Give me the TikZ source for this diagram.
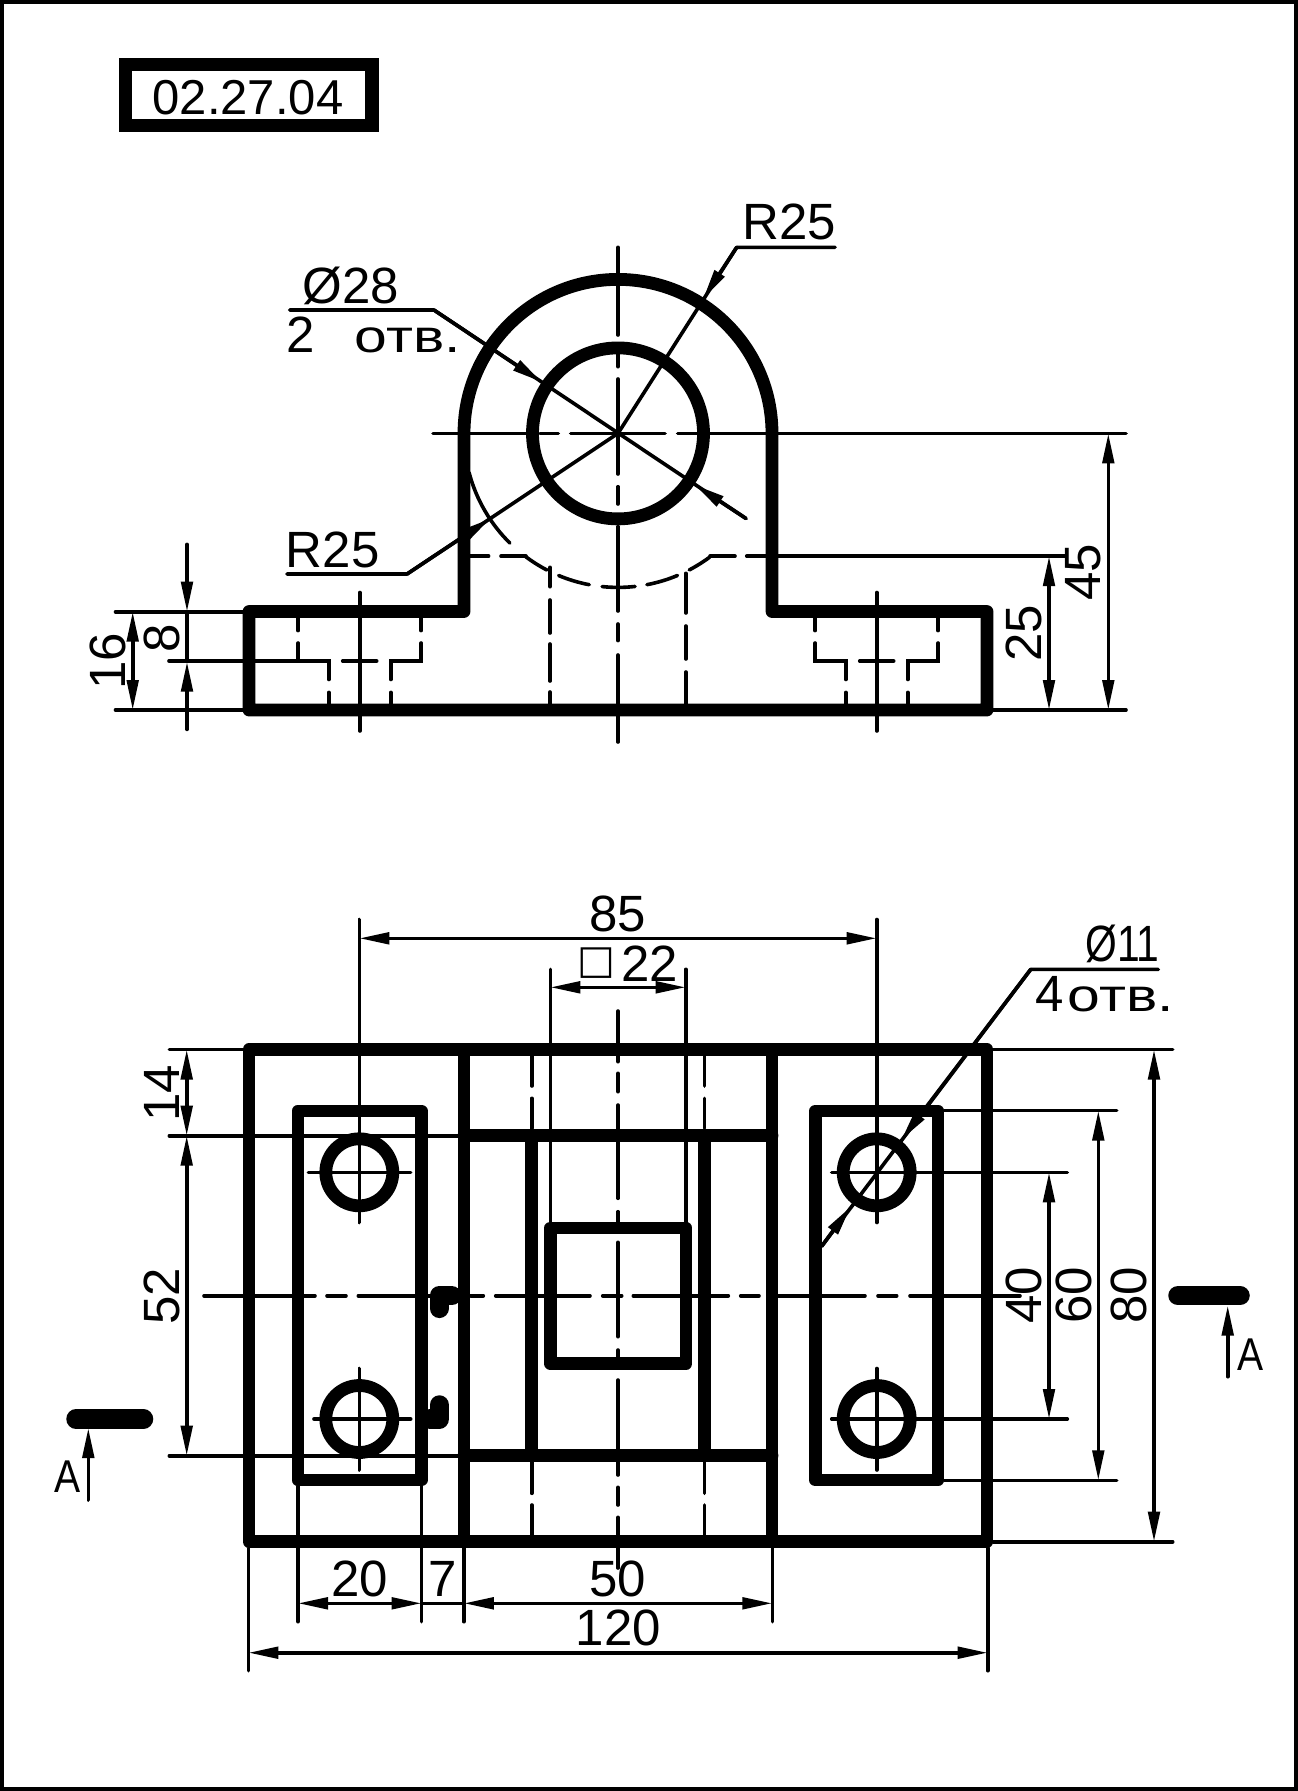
\documentclass[tikz,border=0pt]{standalone}
\usepackage{fontspec}
\setmainfont{Liberation Sans}
\newfontfamily\symfont{DejaVu Sans}
\usetikzlibrary{arrows.meta}

\newcommand{\otv}{{\fontsize{46}{46}\selectfont\scalebox{1.28}[1]{отв.}}}

\begin{document}
\begin{tikzpicture}
            [x=1pt, y=-1pt,
             outline/.style={line width=12.8pt, line join=round, line cap=round},
             thinline/.style={line width=3.6pt, line cap=round},
             bar/.style={line width=19.5pt, line cap=round, line join=round},
             lbl/.style={inner sep=0pt, font=\fontsize{51}{51}\selectfont},
             >={Stealth[length=30pt, width=11.5pt, inset=0pt]}]

            \useasboundingbox (0,0) rectangle (1298,1791);
            \draw[line width=4.5pt] (1.8,1.8) rectangle (1295.8,1788.8);

            % title
            \draw[line width=13.4pt] (125.7,64.2) rectangle (372,125.5);
            \node[lbl] (title) at (248,98) {\fontsize{49}{49}\selectfont 02.27.04};

            % front view
            \coordinate (C) at (618,433.4);

            \draw[thinline] (618,247.3) -- (618,335) (618,354) -- (618,366.7) (618,379) -- (618,474)
                (618,486.7) -- (618,504) (618,526.7) -- (618,611) (618,624) -- (618,640.6) (618,655) -- (618,742);
            \draw[thinline] (433,433.4) -- (527,433.4) (540,433.4) -- (558.3,433.4) (570.7,433.4) -- (665,433.4)
                (677.7,433.4) -- (696.7,433.4) (710,433.4) -- (1126,433.4);

            \draw[thinline] (C) ++(165.3:154) arc[start angle=165.3, end angle=134.6, radius=154];
            \draw[thinline, dash pattern=on 25pt off 13pt on 32pt off 13pt on 33pt off 12pt on 32pt off 13pt on 24pt off 60pt]
                (C) ++(126.8:154) arc[start angle=126.8, end angle=53.2, radius=154];
            \draw[thinline] (470.6,556.2) -- (488.6,556.2) (501,556.2) -- (526,556.2)
                (710,556.2) -- (735,556.2) (746.7,556.2) -- (1065,556.2);

            \draw[thinline] (550,567.3) -- (550,586.7) (550,600) -- (550,633) (550,644) -- (550,681) (550,692) -- (550,704);
            \draw[thinline] (685.7,573.3) -- (685.7,613) (685.7,626) -- (685.7,659) (685.7,672) -- (685.7,704);

            \draw[thinline] (169,661) -- (298,661);
            \foreach \x in {359.7,876.7} {
                \draw[thinline] (\x,592.5) -- (\x,731);
                \draw[thinline] ({\x-61.5},618) -- ({\x-61.5},630.6);
                \draw[thinline, line join=miter] ({\x-61.5},643) -- ({\x-61.5},661) -- ({\x-31},661) -- ({\x-31},679.5);
                \draw[thinline] ({\x-31},692.4) -- ({\x-31},704);
                \draw[thinline] ({\x-17},661) -- ({\x+17},661);
                \draw[thinline] ({\x+31},692.4) -- ({\x+31},704);
                \draw[thinline, line join=miter] ({\x+31},679.5) -- ({\x+31},661) -- ({\x+61.5},661) -- ({\x+61.5},643);
                \draw[thinline] ({\x+61.5},630.6) -- ({\x+61.5},618);
            }

            % front view leaders
            \draw[thinline, line join=round] (835,247.3) -- (736.7,247.3) -- (C);
            \draw[thinline, line join=round] (287,574) -- (407,574) -- (C);
            \draw[thinline, line join=round] (289.6,310) -- (434,310) -- (746,518.5);
            \draw[thinline, ->] (736.7,247.3) -- (703.3,298.4);
            \draw[thinline, ->] (407,574) -- (490.4,518.6);
            \draw[thinline, ->] (434,310) -- (541.6,382);
            \draw[thinline, ->] (746,518.5) -- (695,485);

            % front view dimensions
            \draw[thinline] (115.5,611.7) -- (243,611.7) (115.5,710) -- (243,710) (987,710) -- (1126,710);
            \draw[thinline, <->] (132.7,611.7) -- (132.7,710);
            \draw[thinline, ->] (187,544.4) -- (187,611.7);
            \draw[thinline] (187,611.7) -- (187,661);
            \draw[thinline, ->] (187,729.4) -- (187,661.7);
            \draw[thinline, <->] (1049,556.2) -- (1049,710);
            \draw[thinline, <->] (1108.3,433.4) -- (1108.3,710);

            \draw[outline] (249,710) -- (249,611.5) -- (464,611.5) -- (464,433.4)
                arc[start angle=180, end angle=360, radius=154]
                -- (772,611.5) -- (987,611.5) -- (987,710) -- cycle;
            \draw[outline] (C) circle[radius=85.5];

            \node[lbl] (r25top) at (789,222) {R25};
            \node[lbl] (dia28) at (351,285.5) {Ø28};
            \node[lbl, anchor=base west] (two) at (286,352) {2\hspace{40pt}\otv};
            \node[lbl] (r25low) at (332.7,549.5) {R25};
            \node[lbl, rotate=90] (d8) at (162.3,638) {8};
            \node[lbl, rotate=90] (d16) at (108,661) {16};
            \node[lbl, rotate=90] (d25) at (1024,633) {25};
            \node[lbl, rotate=90] (d45) at (1083,572) {45};

            % plan view
            \draw[thinline] (359.3,919.5) -- (359.3,1222.5) (359.3,1368.5) -- (359.3,1470);
            \draw[thinline] (876.7,919.5) -- (876.7,1222.5) (876.7,1368.5) -- (876.7,1470);
            \draw[thinline] (308.3,1172.3) -- (410.7,1172.3) (314,1419) -- (410.7,1419);
            \draw[thinline] (831.7,1172.3) -- (1067.3,1172.3) (831.7,1419) -- (1067.3,1419);

            \draw[thinline] (204,1295.7) -- (315,1295.7) (327,1295.7) -- (346,1295.7) (358.3,1295.7) -- (430,1295.7)
                (470.7,1295.7) -- (483.3,1295.7) (495.7,1295.7) -- (590,1295.7) (602.7,1295.7) -- (621.7,1295.7)
                (633.3,1295.7) -- (728.3,1295.7) (740.7,1295.7) -- (759,1295.7) (778,1295.7) -- (865,1295.7)
                (878,1295.7) -- (896.7,1295.7) (910,1295.7) -- (1020,1295.7);
            \draw[thinline] (618,1011) -- (618,1061.7) (618,1073.3) -- (618,1091.7) (618,1105) -- (618,1198.3)
                (618,1211.7) -- (618,1225) (618,1242.3) -- (618,1336.7) (618,1350) -- (618,1360)
                (618,1380) -- (618,1475) (618,1487.3) -- (618,1505) (618,1517.3) -- (618,1568);

            \foreach \x in {531.7,704.3} {
                \draw[thinline] (\x,1056) -- (\x,1086) (\x,1098.3) -- (\x,1128.3);
                \draw[thinline] (\x,1462.3) -- (\x,1493.3) (\x,1505) -- (\x,1535);
            }
            \draw[thinline] (550.3,969.3) -- (550.3,1228) (685.7,969.3) -- (685.7,1228);

            % plan view leader
            \draw[thinline, line join=round] (1158.3,969.4) -- (1030.7,969.4) -- (821.7,1246.2);
            \draw[thinline, ->] (1030.7,969.4) -- (901.5,1139.5);
            \draw[thinline, ->] (821.7,1246.2) -- (850.7,1206.7);

            % plan view dimensions
            \draw[thinline] (169.3,1049.5) -- (243,1049.5) (169.3,1135.7) -- (464,1135.7) (169.3,1455.7) -- (464,1455.7);
            \draw[thinline, <->] (186.7,1049.5) -- (186.7,1135.7);
            \draw[thinline, <->] (186.7,1135.7) -- (186.7,1455.7);
            \draw[thinline] (993,1049.5) -- (1172.7,1049.5) (944,1110.6) -- (1116.7,1110.6) (944,1480.3) -- (1116.7,1480.3);
            \draw[thinline, <->] (1154,1049.5) -- (1154,1541.7);
            \draw[thinline, <->] (1098.3,1110.6) -- (1098.3,1480.3);
            \draw[thinline, <->] (1049,1172.3) -- (1049,1419);
            \draw[thinline] (993,1541.7) -- (1172.7,1541.7);
            \draw[thinline, <->] (359.3,938.3) -- (876.7,938.3);
            \draw[thinline, <->] (550.3,987.3) -- (685.7,987.3);

            \draw[thinline] (248.4,1548) -- (248.4,1670.7) (987.7,1548) -- (987.7,1670.7);
            \draw[thinline] (298,1486) -- (298,1621.7) (421.5,1486) -- (421.5,1621.7);
            \draw[thinline] (463.8,1548) -- (463.8,1621.7) (772.3,1548) -- (772.3,1621.7);
            \draw[thinline, <->] (298,1603.3) -- (421.5,1603.3);
            \draw[thinline] (421.5,1603.3) -- (463.8,1603.3);
            \draw[thinline, <->] (463.8,1603.3) -- (772.3,1603.3);
            \draw[thinline, <->] (248.4,1652.7) -- (987.7,1652.7);

            % outlines
            \draw[outline] (249,1049.5) rectangle (987,1541.7);
            \draw[outline] (464,1049.5) -- (464,1541.7) (772,1049.5) -- (772,1541.7);
            \draw[outline] (464,1135.7) -- (772,1135.7) (464,1455.7) -- (772,1455.7);
            \draw[outline] (531.7,1135.7) -- (531.7,1455.7) (704.3,1135.7) -- (704.3,1455.7);
            \draw[outline] (550.3,1228) rectangle (686,1363.7);
            \draw[outline] (298,1111) rectangle (421.3,1480);
            \draw[outline] (815.5,1111) rectangle (938,1480);
            \foreach \x in {359.3,876.7} {
                \draw[outline] (\x,1172.3) circle[radius=33.5];
                \draw[outline] (\x,1419) circle[radius=33.5];
            }

            % section A
            \draw[bar] (451.7,1295.7) -- (439.3,1295.7) -- (439.3,1308.3);
            \draw[bar] (439.3,1405) -- (439.3,1419) -- (430,1419);
            \draw[bar] (76,1419) -- (143.5,1419);
            \draw[bar] (1178,1295.7) -- (1240,1295.7);
            \draw[thinline, ->] (88.3,1500) -- (88.3,1428);
            \draw[thinline, ->] (1227.7,1376.7) -- (1227.7,1305.5);

            \node[lbl] (a1) at (68,1477) {\fontsize{46}{46}\selectfont\scalebox{.85}[1]{A}};
            \node[lbl] (a2) at (1250.5,1355) {\fontsize{46}{46}\selectfont\scalebox{.85}[1]{A}};
            \node[lbl] (d85) at (618,913.7) {85};
            \node[lbl, anchor=base east] (d22) at (678,981) {\raisebox{8pt}{\symfont\fontsize{40}{40}\selectfont □}\hspace{6pt}22};
            \node[lbl] (dia11) at (1122.5,943.7) {\scalebox{.8}[1]{Ø11}};
            \node[lbl, anchor=base west] (four) at (1035,1011) {4\hspace{4pt}\otv};
            \node[lbl, rotate=90] (d14) at (161.7,1093) {14};
            \node[lbl, rotate=90] (d52) at (161.7,1296) {52};
            \node[lbl, rotate=90] (d40) at (1024,1295.6) {40};
            \node[lbl, rotate=90] (d60) at (1074,1295.6) {60};
            \node[lbl, rotate=90] (d80) at (1129,1295.6) {80};
            \node[lbl] (d20) at (359.4,1578.7) {20};
            \node[lbl] (d7) at (442.7,1578.7) {7};
            \node[lbl] (d50) at (618,1578.7) {50};
            \node[lbl] (d120) at (618.4,1628) {120};
        \end{tikzpicture}
\end{document}
